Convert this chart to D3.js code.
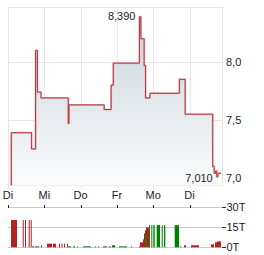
<!DOCTYPE html>
<html>
<head>
<meta charset="utf-8">
<script src="https://cdn.jsdelivr.net/npm/d3@7"></script>
<style>
  body { margin: 0; background: #fff; }
  text { font-family: "Liberation Sans", Arial, sans-serif; font-size: 11px; fill: #1a1a2e; }
</style>
</head>
<body>
<script>
// Price chart data (time in trading days from first tick)
const dayLabels = ['Di', 'Mi', 'Do', 'Fr', 'Mo', 'Di'];
const priceTimes = [0.08, 0.09, 0.65, 0.76, 0.81, 0.91, 1.66, 1.68, 2.65, 2.84, 2.90, 3.62, 3.66, 3.75, 3.79, 3.91, 4.72, 4.88, 5.64, 5.68, 5.72, 5.75, 5.78, 5.87];
const priceValues = [6.94, 7.39, 7.25, 8.10, 7.74, 7.69, 7.47, 7.63, 7.59, 7.80, 7.99, 8.39, 8.20, 7.97, 7.69, 7.73, 7.85, 7.55, 7.10, 7.04, 7.06, 7.01, 7.04, 7.04];
const priceTicks = [7.0, 7.5, 8.0];
const maxLabel = '8,390';
const minLabel = '7,010';

// Volume data (bar start/end in trading days, volume in thousands)
const volStart = [0.083, 0.405, 0.468, 0.570, 0.625, 0.661, 0.744, 0.826, 0.909, 1.074, 1.240, 1.405, 1.474, 1.543, 1.625, 1.653, 1.791, 1.901, 2.066, 2.397, 2.479, 2.617, 2.782, 2.865, 3.058, 3.388, 3.609, 3.636, 3.719, 3.747, 3.774, 3.802, 3.884, 3.948, 4.003, 4.096, 4.234, 4.298, 4.592, 4.738, 4.848, 5.041, 5.592, 5.702, 5.758];
const volEnd = [0.248, 0.433, 0.496, 0.598, 0.653, 0.716, 0.826, 0.854, 0.937, 1.212, 1.322, 1.433, 1.501, 1.570, 1.653, 1.736, 1.846, 1.928, 2.287, 2.424, 2.507, 2.727, 2.837, 2.948, 3.278, 3.416, 3.636, 3.719, 3.747, 3.774, 3.802, 3.884, 3.912, 3.975, 4.041, 4.187, 4.262, 4.333, 4.711, 4.766, 4.904, 5.262, 5.675, 5.758, 5.868];
const volValues = [20.3, 20.3, 20.3, 20.3, 20.3, 0.7, 0.7, 0.7, 1.5, 2.7, 2.7, 2.7, 2.7, 2.7, 2.7, 0.7, 0.7, 0.7, 0.7, 0.7, 0.7, 0.7, 0.7, 1.5, 0.7, 0.7, 0.7, 3.7, 5.9, 10.4, 12.8, 14.8, 16.5, 16.5, 16.5, 16.5, 16.5, 16.5, 16.5, 0.7, 1.5, 1.5, 2.2, 3.7, 4.4];
const volUp = [0, 0, 0, 0, 0, 0, 1, 0, 0, 0, 0, 0, 0, 0, 0, 1, 1, 1, 1, 1, 1, 0, 0, 1, 1, 1, 0, 0, 0, 1, 0, 0, 1, 1, 1, 1, 1, 1, 1, 1, 0, 0, 0, 0, 0];
const volTicks = [0, 15, 30];

const width = 264;
const height = 255;
const left = 8, right = 222;

const svg = d3.select('body')
  .append('svg')
  .attr('width', width)
  .attr('height', height);

const x = d3.scaleLinear().domain([0, 5.895]).range([left, right]);
const y = d3.scaleLinear().domain([6.935, 8.474]).range([185.5, 7]);
const yv = d3.scaleLinear().domain([0, 30]).range([247.3, 207]);

const prices = priceTimes.map((t, i) => ({ t: t, v: priceValues[i] }));

// gradient for area
const grad = svg.append('defs').append('linearGradient')
  .attr('id', 'areaGrad')
  .attr('gradientUnits', 'userSpaceOnUse')
  .attr('x1', 0).attr('x2', 0)
  .attr('y1', y(8.1)).attr('y2', y(6.935));
grad.append('stop').attr('offset', 0).attr('stop-color', '#d4dce2');
grad.append('stop').attr('offset', 1).attr('stop-color', '#fafbfc');

// grid
const grid = svg.append('g').attr('stroke', '#e6e6e6').attr('stroke-width', 1);
grid.selectAll('.hg')
  .data(priceTicks)
  .enter()
  .append('line')
  .attr('x1', left).attr('x2', right)
  .attr('y1', d => Math.round(y(d)) + 0.5)
  .attr('y2', d => Math.round(y(d)) + 0.5);
grid.selectAll('.vg')
  .data(d3.range(dayLabels.length))
  .enter()
  .append('line')
  .attr('x1', d => Math.round(x(d)) + 0.5)
  .attr('x2', d => Math.round(x(d)) + 0.5)
  .attr('y1', 7).attr('y2', 188);
grid.append('rect')
  .attr('x', left + 0.5).attr('y', 7.5)
  .attr('width', right - left).attr('height', 178)
  .attr('fill', 'none');

// area + line
const area = d3.area()
  .x(d => x(d.t))
  .y0(y(6.935))
  .y1(d => y(d.v))
  .curve(d3.curveStepAfter);

const line = d3.line()
  .x(d => x(d.t))
  .y(d => y(d.v))
  .curve(d3.curveStepAfter);

svg.append('path')
  .datum(prices)
  .attr('d', area)
  .attr('fill', 'url(#areaGrad)');

svg.append('path')
  .datum(prices)
  .attr('d', line)
  .attr('fill', 'none')
  .attr('stroke', '#e4aaac')
  .attr('stroke-width', 2)
  .attr('stroke-opacity', 0.7);

svg.append('path')
  .datum(prices)
  .attr('d', line)
  .attr('fill', 'none')
  .attr('stroke', '#b3323a')
  .attr('stroke-width', 1);

// y labels
svg.selectAll('.ylab')
  .data(priceTicks)
  .enter()
  .append('text')
  .attr('x', 226)
  .attr('y', d => y(d) + 4)
  .text(d => d3.format('.1f')(d).replace('.', ','));

// x labels
svg.selectAll('.xlab')
  .data(dayLabels)
  .enter()
  .append('text')
  .attr('x', (d, i) => x(i))
  .attr('y', 199)
  .attr('text-anchor', 'middle')
  .text(d => d);

// max / min annotations (min skips the opening tick)
const traded = prices.slice(1);
const maxP = traded.reduce((a, b) => (b.v > a.v ? b : a));
const minP = traded.reduce((a, b) => (b.v < a.v ? b : a));
svg.append('text')
  .attr('x', x(maxP.t) - 4)
  .attr('y', y(maxP.v) + 3)
  .attr('text-anchor', 'end')
  .text(maxLabel);
svg.append('text')
  .attr('x', x(minP.t) - 4)
  .attr('y', y(minP.v) + 5)
  .attr('text-anchor', 'end')
  .text(minLabel);

// volume panel
const vol = volStart.map((s, i) => ({ s: s, e: volEnd[i], v: volValues[i], up: volUp[i] }));

svg.selectAll('.vline')
  .data(volTicks)
  .enter()
  .append('line')
  .attr('x1', left).attr('x2', right)
  .attr('y1', d => Math.round(yv(d)) + 0.5)
  .attr('y2', d => Math.round(yv(d)) + 0.5)
  .attr('stroke', '#cccccc');

svg.selectAll('.vtick')
  .data(volTicks)
  .enter()
  .append('line')
  .attr('x1', right).attr('x2', right + 4)
  .attr('y1', d => Math.round(yv(d)) + 0.5)
  .attr('y2', d => Math.round(yv(d)) + 0.5)
  .attr('stroke', '#333');

svg.selectAll('.vlab')
  .data(volTicks)
  .enter()
  .append('text')
  .attr('x', right + 4.5)
  .attr('y', d => yv(d) + 4)
  .text(d => d + 'T');

svg.selectAll('.dtick')
  .data(d3.range(dayLabels.length))
  .enter()
  .append('line')
  .attr('x1', d => Math.round(x(d)) + 0.5)
  .attr('x2', d => Math.round(x(d)) + 0.5)
  .attr('y1', 205).attr('y2', 208)
  .attr('stroke', '#222');

svg.selectAll('.vbar')
  .data(vol)
  .enter()
  .append('rect')
  .attr('x', d => x(d.s))
  .attr('width', d => Math.max(1, x(d.e) - x(d.s)))
  .attr('y', d => yv(d.v))
  .attr('height', d => yv(0) - yv(d.v))
  .attr('fill', d => (d.up ? '#008000' : '#b22222'));
</script>
</body>
</html>
